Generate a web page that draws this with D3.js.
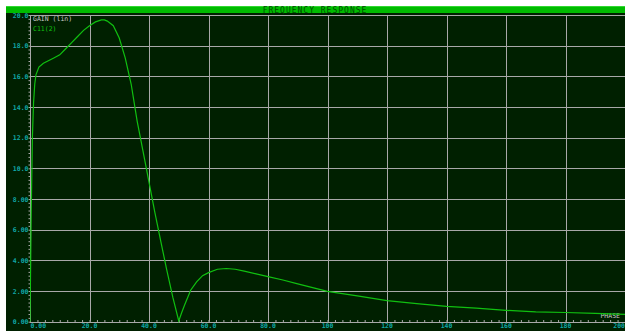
<!DOCTYPE html>
<html>
<head>
<meta charset="utf-8">
<script src="https://cdn.jsdelivr.net/npm/d3@7"></script>
<style>
  html, body { margin: 0; padding: 0; background: #ffffff; }
  svg { display: block; }
  text { font-family: "DejaVu Sans Mono", monospace; }
</style>
</head>
<body>
<div id="chart"></div>
<script>
// Frequency response of C11(2): gain (linear) versus frequency
const freq = [0, 0.4, 0.8, 1.2, 1.6, 2, 3, 4.5, 6, 8, 10, 12, 14, 16, 18, 20, 22, 24, 25, 26, 28, 30,
  32, 34, 36, 38, 40, 42, 44, 46, 48, 50, 51, 52, 54, 56, 58, 60, 63, 66, 69, 72, 76, 80, 85, 90,
  95, 100, 110, 120, 130, 140, 150, 160, 170, 180, 190, 200];
const gain = [0, 7, 12, 14.3, 15.5, 16.1, 16.6, 16.85, 17.0, 17.2, 17.4, 17.8, 18.2, 18.6, 19.0, 19.3,
  19.55, 19.68, 19.68, 19.6, 19.3, 18.5, 17.2, 15.5, 13.1, 11.1, 9.1, 7.1, 5.2, 3.35, 1.6, 0.05, 0.6,
  1.1, 2.05, 2.6, 3.0, 3.2, 3.42, 3.47, 3.42, 3.3, 3.12, 2.94, 2.72, 2.47, 2.22, 1.98, 1.68, 1.37,
  1.18, 1.0, 0.88, 0.74, 0.64, 0.6, 0.54, 0.48];

const xTicks = [0, 20, 40, 60, 80, 100, 120, 140, 160, 180, 200];
const xTickLabels = ["0.00", "20.0", "40.0", "60.0", "80.0", "100", "120", "140", "160", "180", "200"];
const yTicks = [0, 2, 4, 6, 8, 10, 12, 14, 16, 18, 20];
const yTickLabels = ["0.00", "2.00", "4.00", "6.00", "8.00", "10.0", "12.0", "14.0", "16.0", "18.0", "20.0"];

const W = 625, H = 331;
const bg = "#002000", grid = "#a8a8a8", trace = "#10c010", tickText = "#10a8a8";

const svg = d3.select("#chart").append("svg").attr("width", W).attr("height", H);

// window frame: white border, title bar, dark plotting field
svg.append("rect").attr("width", W).attr("height", H).attr("fill", "#ffffff");
svg.append("rect").attr("x", 6).attr("y", 13).attr("width", W - 6).attr("height", H - 13).attr("fill", bg);
svg.append("rect").attr("x", 6).attr("y", 6).attr("width", W - 6).attr("height", 7).attr("fill", "#00bb00");
svg.append("rect").attr("x", 6).attr("y", 6).attr("width", W - 6).attr("height", 1).attr("fill", "#30d830");
svg.append("text").attr("x", 315).attr("y", 12.5).attr("text-anchor", "middle")
  .attr("font-size", 8).attr("letter-spacing", 1).attr("fill", "#005000")
  .text("FREQUENCY  RESPONSE");

const x = d3.scaleLinear().domain([0, 200]).range([30, 625]);
const y = d3.scaleLinear().domain([0, 20]).range([321.7, 15]);

// grid
const g = svg.append("g");
g.selectAll("line.h").data(yTicks.slice(1)).join("line")
  .attr("x1", 30).attr("x2", W).attr("y1", d => Math.round(y(d)) + 0.5).attr("y2", d => Math.round(y(d)) + 0.5)
  .attr("stroke", grid).attr("stroke-width", 1);
g.selectAll("line.v").data(xTicks.slice(1)).join("line")
  .attr("y1", 15).attr("y2", 321.7).attr("x1", d => Math.round(x(d)) + 0.5).attr("x2", d => Math.round(x(d)) + 0.5)
  .attr("stroke", grid).attr("stroke-width", 1);

// x axis with minor ticks every 2.5
const xAxis = d3.axisTop(x).tickValues(d3.range(0, 200.1, 2.5)).tickSize(2).tickFormat("");
svg.append("g").attr("transform", "translate(0,322)").call(xAxis)
  .call(s => s.selectAll("line, path").attr("stroke", grid))
  .call(s => s.select(".domain").attr("d", "M30,0.5H625"));

// y axis with minor ticks every 0.25
const yAxis = d3.axisLeft(y).tickValues(d3.range(0, 20.01, 0.25)).tickSize(2).tickFormat("");
svg.append("g").attr("transform", "translate(30.5,0)").call(yAxis)
  .call(s => s.selectAll("line, path").attr("stroke", grid))
  .call(s => s.select(".domain").attr("d", "M0,15V322"));

// tick labels
svg.append("g").selectAll("text").data(yTicks).join("text")
  .attr("x", 28.5).attr("y", d => y(d) + 2.5).attr("text-anchor", "end")
  .attr("font-size", 6.5).attr("font-weight", "bold").attr("fill", tickText)
  .text((d, i) => yTickLabels[i]);
svg.append("g").selectAll("text").data(xTicks).join("text")
  .attr("x", (d, i) => i === 0 ? 30.5 : (i === xTicks.length - 1 ? 625 : x(d)))
  .attr("y", 328)
  .attr("text-anchor", (d, i) => i === 0 ? "start" : (i === xTicks.length - 1 ? "end" : "middle"))
  .attr("font-size", 6.5).attr("font-weight", "bold").attr("fill", tickText)
  .text((d, i) => xTickLabels[i]);

// annotations
svg.append("text").attr("x", 33).attr("y", 21).attr("font-size", 6.5).attr("fill", "#c8c8c8").text("GAIN (lin)");
svg.append("text").attr("x", 33).attr("y", 31).attr("font-size", 6.5).attr("fill", trace).text("C11(2)");
svg.append("text").attr("x", 620).attr("y", 318).attr("text-anchor", "end")
  .attr("font-size", 6.5).attr("fill", "#c8c8c8").text("PHASE");

// gain trace
svg.append("clipPath").attr("id", "plotclip").append("rect")
  .attr("x", 30).attr("y", 13).attr("width", W - 30).attr("height", 310);
const line = d3.line().x((d, i) => x(freq[i])).y(d => y(d)).curve(d3.curveLinear);
svg.append("path").datum(gain).attr("clip-path", "url(#plotclip)")
  .attr("d", line).attr("fill", "none").attr("stroke", trace).attr("stroke-width", 1.2);
</script>
</body>
</html>
